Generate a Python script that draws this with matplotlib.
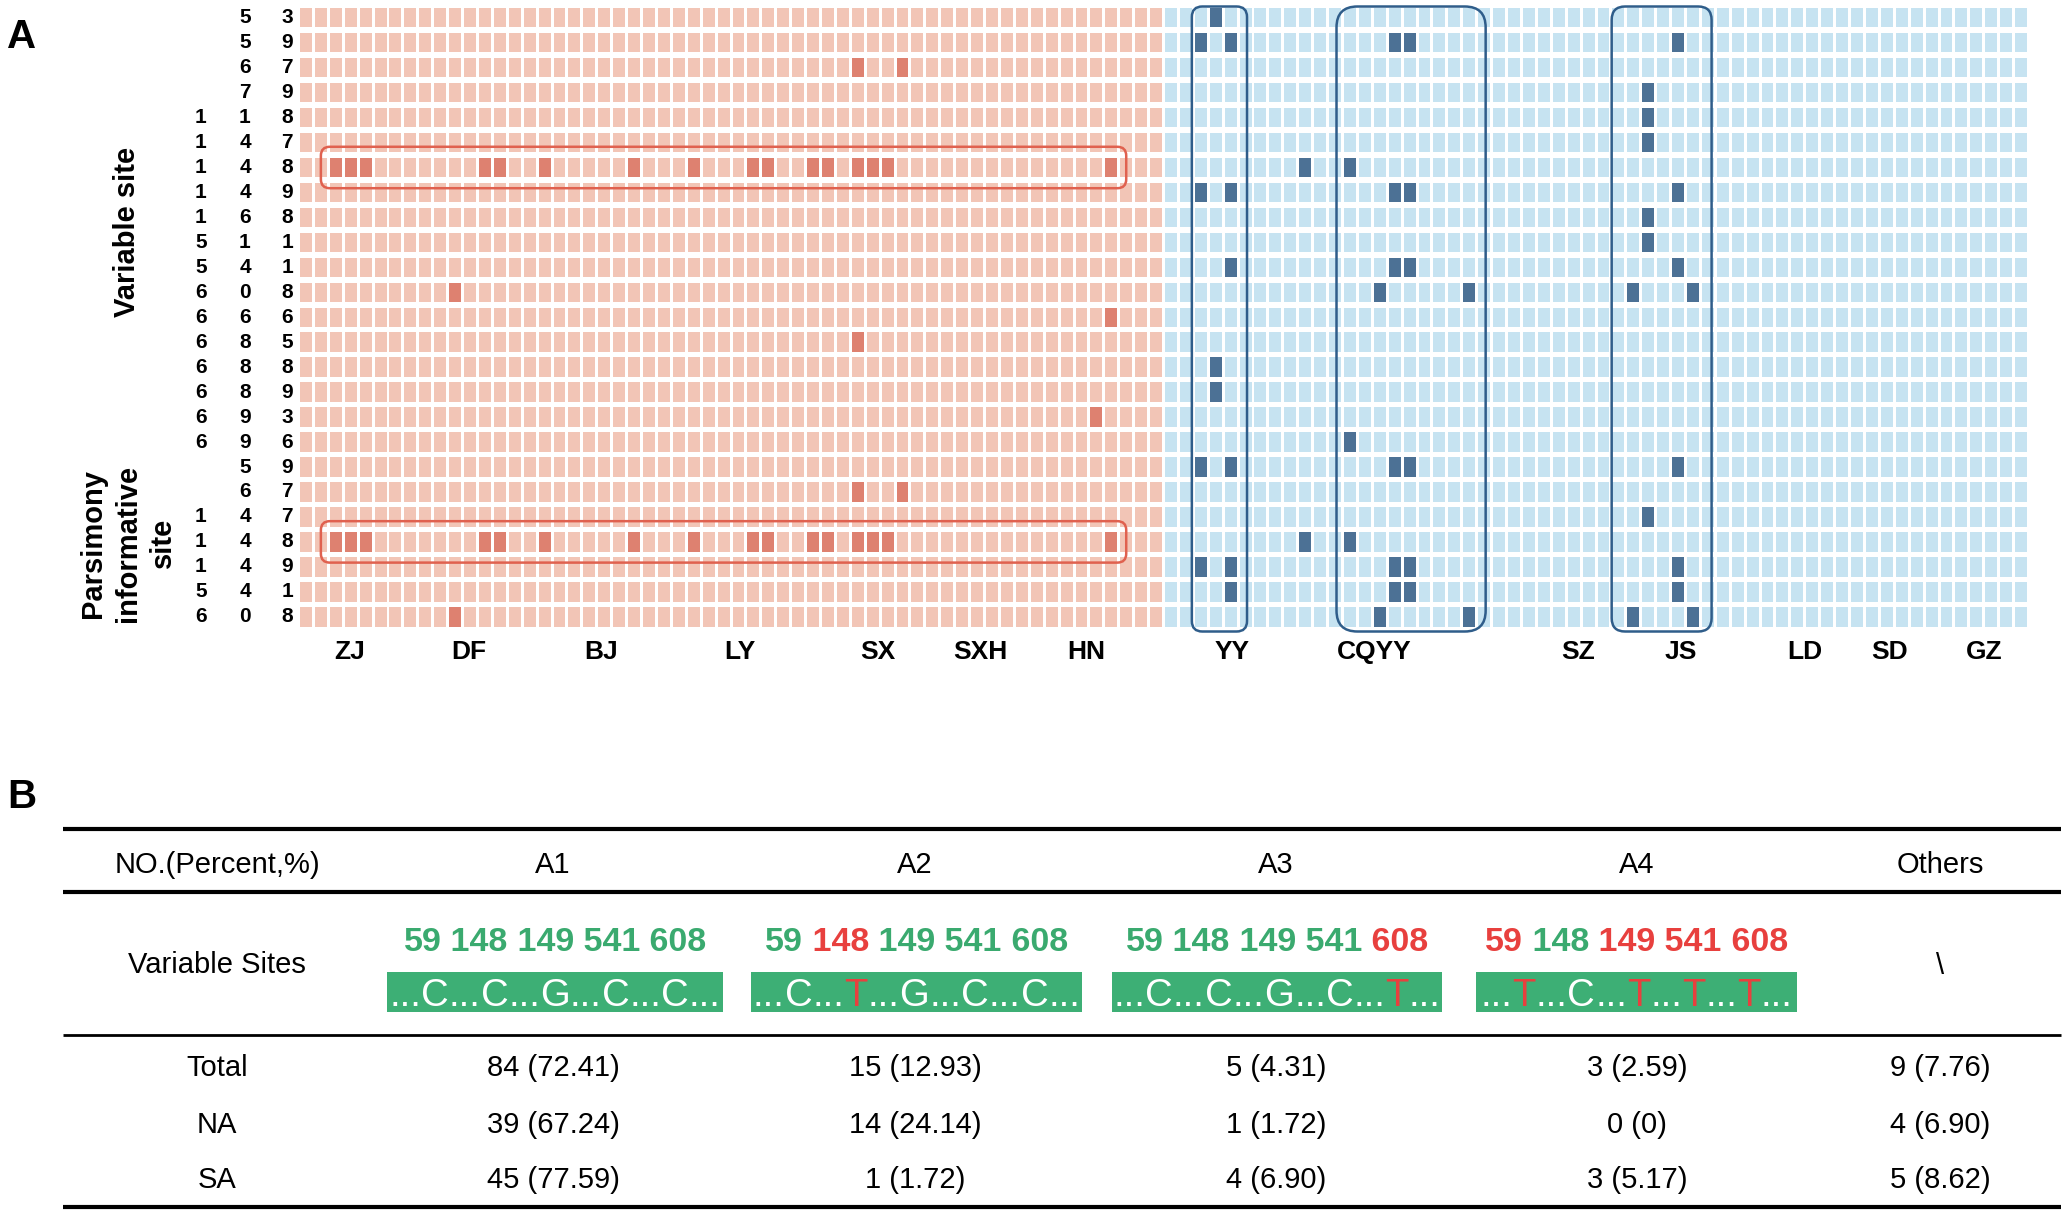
import numpy as np
import matplotlib.pyplot as plt
from matplotlib.patches import FancyBboxPatch, Rectangle

plt.rcParams['font.family'] = ['Liberation Sans', 'DejaVu Sans']

W, H = 2068, 1217

# ---- panel A data ----
variable_sites = [53, 59, 67, 79, 118, 147, 148, 149, 168, 511, 541, 608, 666, 685, 688, 689, 693, 696]
parsimony_sites = [59, 67, 147, 148, 149, 541, 608]
n_na = 58
n_sa = 58

# sample columns that carry the mutation at each site
na_hits = {67: [37, 40],
           148: [2, 3, 4, 12, 13, 16, 22, 26, 30, 31, 34, 35, 37, 38, 39, 54],
           608: [10], 666: [54], 685: [37], 693: [53]}
sa_hits = {53: [61], 59: [60, 62, 73, 74, 92], 79: [90], 118: [90], 147: [90],
           148: [67, 70], 149: [60, 62, 73, 74, 92], 168: [90], 511: [90],
           541: [62, 73, 74, 92], 608: [72, 78, 89, 93], 688: [61], 689: [61], 696: [70]}

groups = ['ZJ', 'DF', 'BJ', 'LY', 'SX', 'SXH', 'HN', 'YY', 'CQYY', 'SZ', 'JS', 'LD', 'SD', 'GZ']
group_pos = [3.35, 11.3, 20.2, 29.5, 38.75, 45.6, 52.7, 62.5, 72.0, 85.7, 92.6, 100.9, 106.6, 112.9]

# ---- panel B data ----
hap_names = ['A1', 'A2', 'A3', 'A4', 'Others']
key_sites = [59, 148, 149, 541, 608]
hap_bases = ['CCGCC', 'CTGCC', 'CCGCT', 'TCTTT']
total_n = [84, 15, 5, 3, 9]
total_pct = [72.41, 12.93, 4.31, 2.59, 7.76]
na_n = [39, 14, 1, 0, 4]
na_pct = [67.24, 24.14, 1.72, 0, 6.90]
sa_n = [45, 1, 4, 3, 5]
sa_pct = [77.59, 1.72, 6.90, 5.17, 8.62]

pink_light, pink_dark = '#F2C5B6', '#DE8170'
blue_light, blue_dark = '#C6E3F1', '#4C7195'
red_line, blue_line = '#E0614F', '#2F5D8A'
green_box, green_txt, red_txt = '#3DAF75', '#3AAA6F', '#E8403E'

fig = plt.figure(figsize=(W / 100, H / 100), dpi=100)
ov = fig.add_axes([0, 0, 1, 1])
ov.set_xlim(0, W)
ov.set_ylim(H, 0)
ov.axis('off')

ncol = n_na + n_sa
hm = fig.add_axes([300 / W, 1 - 632 / H, 1730 / W, 624 / H])
hm.set_xlim(0, ncol)
hm.set_ylim(25, 0)
hm.axis('off')

rows = variable_sites + parsimony_sites
cols = np.arange(ncol)
for r, site in enumerate(rows):
    dark = set(na_hits.get(site, [])) | set(sa_hits.get(site, []))
    light_c = [pink_light if c < n_na else blue_light for c in cols]
    hm.bar(cols, 0.78, width=0.8, bottom=r, align='edge', color=light_c, zorder=1)
    d = sorted(dark)
    if d:
        dc = [pink_dark if c < n_na else blue_dark for c in d]
        hm.bar(d, 0.78, width=0.8, bottom=r, align='edge', color=dc, zorder=3)
    for k, ch in enumerate(str(site).rjust(3)):
        hm.text([-6.64, -3.69, -0.87][k], r + 0.39, ch.strip(), ha='center', va='center',
                fontsize=15, fontweight='bold', clip_on=False)

asp = (1730 / ncol) / (624 / 25)
for r in [rows.index(148), len(variable_sites) + parsimony_sites.index(148)]:
    hm.add_patch(FancyBboxPatch((1.4, r - 0.44), 54.0, 1.66,
                                boxstyle='round,pad=0,rounding_size=0.6', mutation_aspect=asp,
                                fill=False, ec=red_line, lw=1.8, zorder=2))
for x0, x1, rs in [(59.8, 63.5, 0.7), (69.5, 79.5, 1.4), (87.95, 94.65, 0.9)]:
    hm.add_patch(FancyBboxPatch((x0, -0.06), x1 - x0, 25.04,
                                boxstyle='round,pad=0,rounding_size=%g' % rs, mutation_aspect=asp,
                                fill=False, ec=blue_line, lw=1.8, zorder=2, clip_on=False))

for name, p in zip(groups, group_pos):
    hm.text(p, 25.8, name, ha='center', va='center', fontsize=19, fontweight='bold', clip_on=False)

ov.text(22, 37, 'A', ha='center', va='center', fontsize=29, fontweight='bold')
ov.text(22, 797, 'B', ha='center', va='center', fontsize=29, fontweight='bold')
ov.text(127, 232, 'Variable site', rotation=90, ha='center', va='center', fontsize=21, fontweight='bold')
ov.text(128, 543, 'Parsimony\ninformative\nsite', rotation=90, ha='center', va='center',
        fontsize=21, fontweight='bold', linespacing=1.3, multialignment='center')

# ---- table ----
col_x = [217, 553, 915, 1276, 1637, 1940]
for y, lw in [(829, 3), (892, 3), (1035, 2), (1207, 3)]:
    ov.plot([63, 2061], [y, y], color='black', lw=lw, solid_capstyle='butt')

ov.text(col_x[0], 865, 'NO.(Percent,%)', ha='center', va='center', fontsize=21)
for x, name in zip(col_x[1:], hap_names):
    ov.text(x, 865, name, ha='center', va='center', fontsize=21)
ov.text(col_x[0], 965, 'Variable Sites', ha='center', va='center', fontsize=21)
ov.text(col_x[5], 966, '\\', ha='center', va='center', fontsize=21)


def fmt(n, p):
    return '%d (%.2f)' % (n, p) if p else '%d (0)' % n


for y, label, ns, ps in [(1068, 'Total', total_n, total_pct), (1125, 'NA', na_n, na_pct),
                         (1180, 'SA', sa_n, sa_pct)]:
    ov.text(col_x[0], y, label, ha='center', va='center', fontsize=21)
    for x, n, p in zip(col_x[1:], ns, ps):
        ov.text(x, y, fmt(n, p), ha='center', va='center', fontsize=21)

renderer = fig.canvas.get_renderer()


def chain(xc, y, parts, **kw):
    first = ov.text(xc, y, parts[0][0], color=parts[0][1], ha='left', va='bottom', **kw)
    t = first
    for s, c in parts[1:]:
        t = ov.annotate(s, xy=(1, 0), xycoords=t, ha='left', va='bottom', color=c, **kw)
    fig.canvas.draw()
    b0 = first.get_window_extent(renderer)
    b1 = t.get_window_extent(renderer)
    first.set_x(xc - (b1.x1 - b0.x0) / 2)


box_x = [(387, 723), (751, 1082), (1112, 1442), (1476, 1797)]
ref = hap_bases[0]
for (bx0, bx1), bases in zip(box_x, hap_bases):
    xc = (bx0 + bx1) / 2
    nums = []
    for i, (s, b) in enumerate(zip(key_sites, bases)):
        nums.append(((' ' if i else '') + str(s), red_txt if b != ref[i] else green_txt))
    chain(xc, 958, nums, fontsize=24.5, fontweight='bold')
    ov.add_patch(Rectangle((bx0, 972), bx1 - bx0, 40, color=green_box, lw=0))
    seq = [('...', 'white')]
    for i, b in enumerate(bases):
        seq.append((b, red_txt if b != ref[i] else 'white'))
        seq.append(('...', 'white'))
    chain(xc, 1014, seq, fontsize=27.5)

fig.savefig('out.png', dpi=100)
